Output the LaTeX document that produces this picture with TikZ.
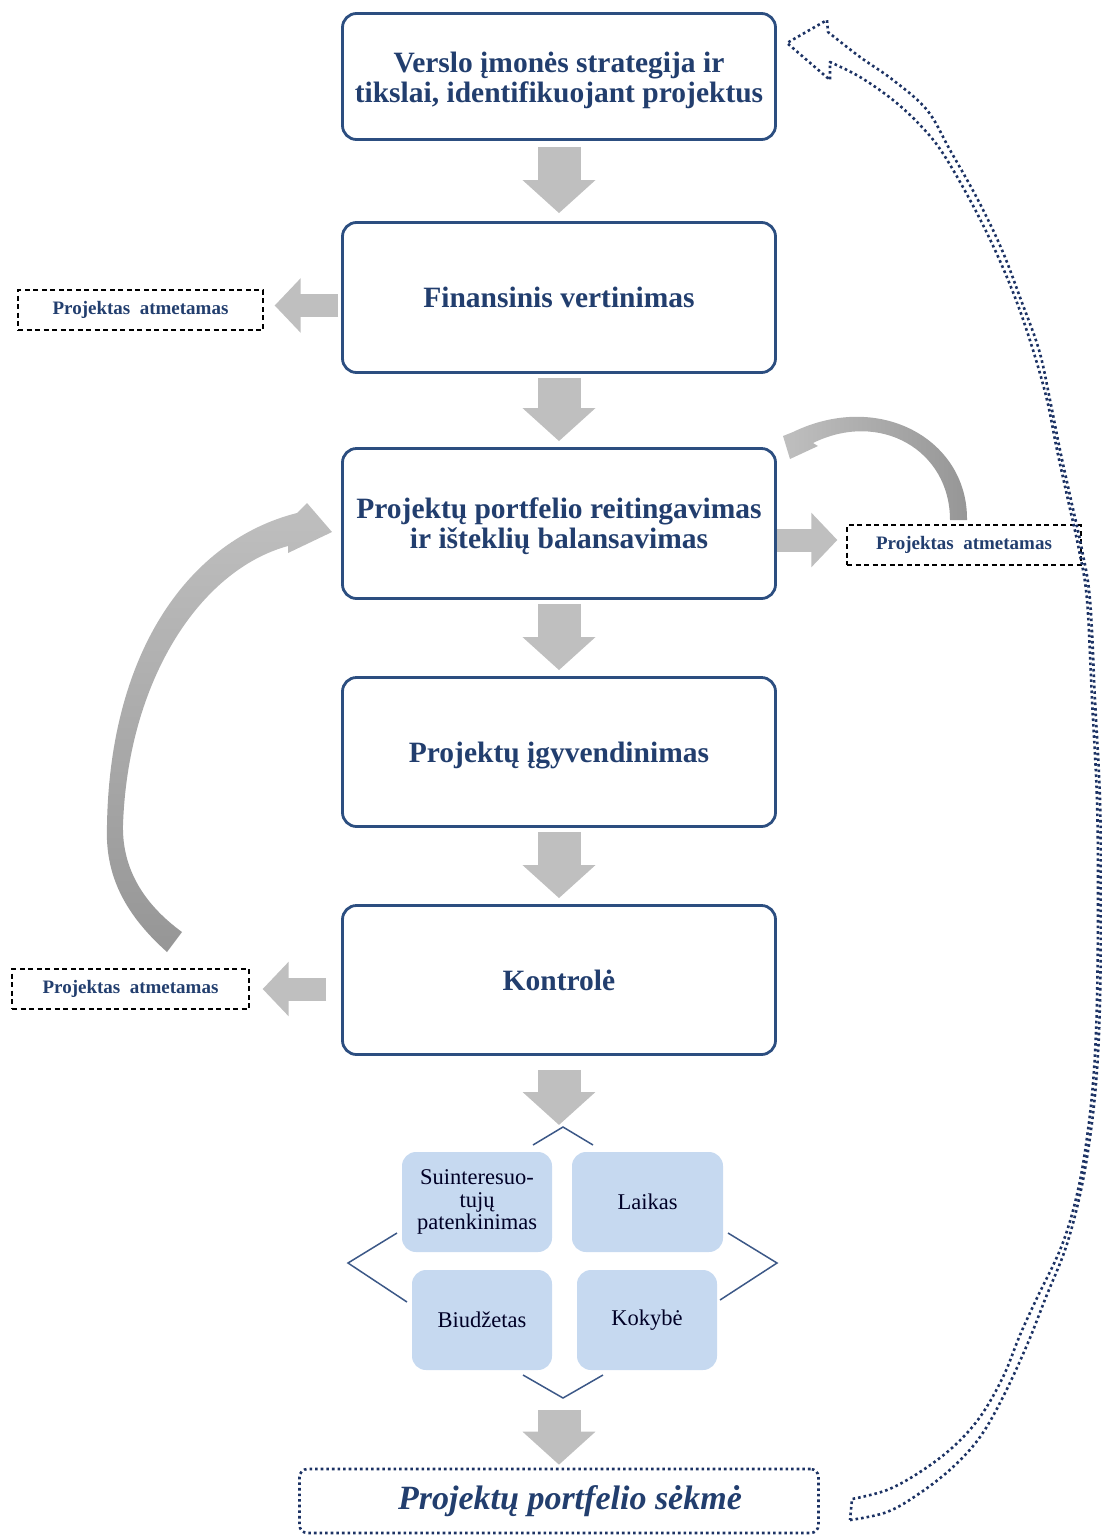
\documentclass[tikz,border=0pt]{standalone}
\usepackage{fontspec}
\setmainfont{Liberation Serif}
\usetikzlibrary{arrows.meta,calc}

\definecolor{titleblue}{RGB}{34,62,110}
\definecolor{boxline}{RGB}{44,78,128}
\definecolor{arrowgray}{RGB}{191,191,191}
\definecolor{shadegray}{RGB}{150,150,150}
\definecolor{tilefill}{RGB}{198,217,240}
\definecolor{dotnavy}{RGB}{28,50,100}
\definecolor{chevron}{RGB}{60,88,135}

% lower a text block without changing its declared size
\newcommand{\lowered}[2]{\raisebox{-#1}[\height][\depth]{#2}}

\begin{document}
\begin{tikzpicture}[x=1pt,y=-1pt,
  stage/.style={draw=boxline,line width=2.8pt,rounded corners=14pt,
    minimum width=433pt,text=titleblue,align=center,inner sep=0pt,
    font=\bfseries\fontsize{29.5}{30}\selectfont},
  reject/.style={draw=black,line width=1.3pt,dash pattern=on 5pt off 3.5pt,
    minimum width=240pt,minimum height=40pt,inner sep=0pt,text=titleblue,
    font=\bfseries\fontsize{19}{22}\selectfont},
  tile/.style={fill=tilefill,rounded corners=14pt,inner sep=0pt,align=center,
    text=black!85!blue,font=\fontsize{22.5}{22.5}\selectfont},
  dotline/.style={draw=dotnavy,line width=2.6pt,dash pattern=on 2.6pt off 3pt},
  downarrow/.style={draw=arrowgray,line width=43pt,-{Triangle[width=71pt,length=33pt]}},
  sidearrow/.style={draw=arrowgray,line width=23pt,-{Triangle[width=53pt,length=26pt]}},
  chev/.style={draw=chevron,line width=1.5pt},
]
\useasboundingbox (0,0) rectangle (1102,1537);
\clip (0,0) rectangle (1102,1537);

% main process stages
\node[stage,minimum height=126pt] (b1) at (559,76.5)
  {\lowered{4pt}{\parbox{430pt}{\centering Verslo įmonės strategija ir\\tikslai, identifikuojant projektus}}};
\node[stage,minimum height=150pt] (b2) at (559,297.5) {Finansinis vertinimas};
\node[stage,minimum height=150pt] (b3) at (559,523.5)
  {\lowered{3pt}{\parbox{430pt}{\centering Projektų portfelio reitingavimas\\ir išteklių balansavimas}}};
\node[stage,minimum height=149pt] (b4) at (559,752) {\lowered{4pt}{Projektų įgyvendinimas}};
\node[stage,minimum height=149pt] (b5) at (559,980) {Kontrolė};

% rejected projects
\node[reject,minimum width=245pt] (r1) at (140.5,310) {Projektas\hspace{0.5em}atmetamas};
\node[reject,minimum width=234pt] (r2) at (964,545) {Projektas\hspace{0.5em}atmetamas};
\node[reject,minimum width=237pt] (r3) at (130.5,989) {Projektas\hspace{0.5em}atmetamas};

% success criteria
\node[tile,minimum width=150pt,minimum height=100pt] (t1) at (477,1202)
  {Suinteresuo-\\tujų\\patenkinimas};
\node[tile,minimum width=151pt,minimum height=100pt] (t2) at (647.5,1202) {Laikas};
\node[tile,minimum width=140pt,minimum height=100pt] (t3) at (482,1320) {Biudžetas};
\node[tile,minimum width=140pt,minimum height=100pt] (t4) at (647,1320) {Kokybė};

\coordinate (qtop) at (563,1127);
\coordinate (qbot) at (563,1398);
\draw[chev] (533,1145) -- (qtop) -- (593,1145);
\draw[chev] (397,1233) -- (348,1263) -- (407,1302);
\draw[chev] (728,1233) -- (777,1263) -- (720,1300);
\draw[chev] (523,1375) -- (qbot) -- (603,1375);

% final result
\node[dotline,rounded corners=8pt,minimum width=519pt,minimum height=64pt,
  inner sep=0pt,text=titleblue,font=\bfseries\itshape\fontsize{34}{36}\selectfont]
  (fin) at (559,1501) {\hspace*{22pt}Projektų portfelio sėkmė};

% straight flow arrows
\draw[downarrow] ([yshift=-6pt]b1.south) -- ([yshift=8pt]b2.north);
\draw[downarrow] ([yshift=-4pt]b2.south) -- ([yshift=6pt]b3.north);
\draw[downarrow] ([yshift=-4pt]b3.south) -- ([yshift=6pt]b4.north);
\draw[downarrow] ([yshift=-4pt]b4.south) -- ([yshift=6pt]b5.north);
\draw[downarrow] ([yshift=-14pt]b5.south) -- ($(b5.south |- qtop)+(0,-2)$);
\draw[downarrow] ($(b5.south |- qbot)+(0,12)$) -- ([yshift=3pt]fin.north);

\draw[sidearrow] ([xshift=-3pt,yshift=-8pt]b2.west) -- ([xshift=11pt,yshift=-8pt]b2.west -| r1.east);
\draw[sidearrow] ([xshift=0pt,yshift=-16.5pt]b3.east) -- ([xshift=-9pt,yshift=-16.5pt]b3.east -| r2.west);
\draw[sidearrow] ([xshift=-15pt,yshift=-9pt]b5.west) -- ([xshift=13pt,yshift=-9pt]b5.west -| r3.east);

% curved return arrows
\shade[top color=arrowgray,middle color=arrowgray,bottom color=shadegray]
  (182,932) -- (167,952)
  .. controls (120,910) and (105,870) .. (107,825)
  .. controls (110,650) and (190,540) .. (297,513)
  -- (307,503) -- (332,532) -- (288,553) -- (288,546)
  .. controls (200,570) and (128,680) .. (123,825)
  .. controls (122,870) and (145,905) .. (182,932)
  -- cycle;

\shade[left color=arrowgray,middle color=arrowgray,right color=shadegray]
  (950,520) -- (967,520)
  .. controls (968,440) and (880,390) .. (793,432)
  -- (783,436) -- (790,459) -- (818,446) -- (813,443)
  .. controls (880,410) and (950,450) .. (950,520)
  -- cycle;

% feedback to strategy
\draw[dotline,line join=round]
  plot[smooth,tension=0.6] coordinates {(850,1520) (887,1512) (920,1493) (953,1467)
    (980,1437) (1003,1397) (1027,1345) (1046,1297) (1066,1247) (1081,1190)
    (1091,1130) (1097,1070) (1100,1000) (1101,900) (1100,800) (1095,700)
    (1090,600) (1082,550) (1071,500) (1060,450) (1050,400) (1039,350)
    (1021,300) (1002,250) (978,200) (950,150) (927,110) (893,80) (860,57) (828,32)}
  -- (827,20) -- (787,43) -- (830,80) -- (830,62)
  -- plot[smooth,tension=0.6] coordinates {(830,62) (860,77) (893,100) (920,125)
    (942,152) (970,200) (995,250) (1016,300) (1033,350) (1047,400) (1057,450)
    (1068,500) (1079,550) (1087,600) (1092,700) (1097,800) (1098,900) (1097,1000)
    (1094,1070) (1088,1130) (1078,1190) (1062,1245) (1036,1300) (1020,1335)
    (1003,1377) (980,1417) (953,1447) (920,1472) (887,1490) (852,1499)}
  -- cycle;
\end{tikzpicture}
\end{document}
